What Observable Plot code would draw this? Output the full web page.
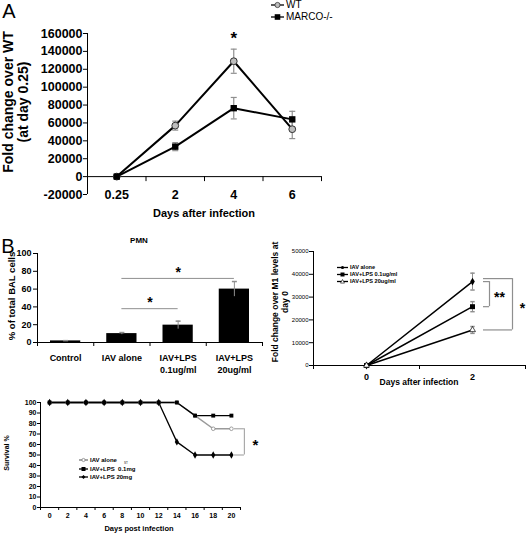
<!DOCTYPE html>
<html><head><meta charset="utf-8">
<script src="https://cdn.jsdelivr.net/npm/d3@7"></script>
<script src="https://cdn.jsdelivr.net/npm/@observablehq/plot@0.6"></script>
<style>
body{margin:0;background:#fff;}
#fig{position:relative;width:526px;height:535px;overflow:hidden;background:#fff;font-family:"Liberation Sans",Arial,sans-serif;color:#000;}
.abs{position:absolute;}
.abs svg{overflow:visible;display:block;}
.lg{position:absolute;display:flex;align-items:center;white-space:pre;}
.lg svg{display:block;margin-right:2px;}
</style></head><body><div id="fig"></div>
<script>
// ---------- DATA ----------
// Panel A
const daysA = ["0.25", "2", "4", "6"];
const wtA = [0, 57000, 129000, 53000];
const wtErrA = [0, 5000, 13500, 10500];
const marcoA = [0, 33500, 76500, 64000];
const marcoErrA = [0, 4500, 12000, 9000];
const yTicksA = [-20000, 0, 20000, 40000, 60000, 80000, 100000, 120000, 140000, 160000];
const sigA = [{day: "4", label: "*"}];

// Panel B (PMN)
const groupsB = ["Control", "IAV alone", "IAV+LPS\n0.1ug/ml", "IAV+LPS\n20ug/ml"];
const pmnB = [1.8, 10, 19.5, 60];
const pmnErrB = [0.3, 1.2, 4.5, 8.5];
const yTicksB = [0, 20, 40, 60, 80, 100];
const sigB = [{from: 1, to: 2, y: 38, label: "*"}, {from: 1, to: 3, y: 72, label: "*"}];

// Panel C (M1 fold change)
const daysC = ["0", "2"];
const seriesC = ["IAV alone", "IAV+LPS 0.1ug/ml", "IAV+LPS 20ug/ml"];
const aloneC = [0, 36800];
const aloneErrC = [0, 3700];
const lps01C = [0, 25800];
const lps01ErrC = [0, 2200];
const lps20C = [0, 15600];
const lps20ErrC = [0, 1500];
const yTicksC = [0, 10000, 20000, 30000, 40000, 50000];

// Panel D (survival)
const daysD = [0, 2, 4, 6, 8, 10, 12, 14, 16, 18, 20];
const seriesD = ["IAV alone", "IAV+LPS  0.1mg", "IAV+LPS 20mg"];
const aloneD = [100, 100, 100, 100, 100, 100, 100, 100, 87.5, 75, 75];
const lps01D = [100, 100, 100, 100, 100, 100, 100, 100, 87.5, 87.5, 87.5];
const lps20D = [100, 100, 100, 100, 100, 100, 100, 62.5, 50, 50, 50];
const yTicksD = [0, 10, 20, 30, 40, 50, 60, 70, 80, 90, 100];

// ---------- HELPERS ----------
const fig = document.getElementById("fig");
const FONT = "'Liberation Sans', Arial, sans-serif";
const GRAY = "#8f8f8f";
const cap = (w) => ({draw(ctx) { ctx.moveTo(-w, 0); ctx.lineTo(w, 0); }});
function place(el, x, y) {
  const d = document.createElement("div");
  d.className = "abs"; d.style.left = x + "px"; d.style.top = y + "px";
  d.appendChild(el); fig.appendChild(d);
}
function txt(s, x, y, o = {}) {
  const {size = 10, weight = "bold", rotate = 0, lh = 1.15, color = "#000"} = o;
  const d = document.createElement("div");
  d.className = "abs";
  Object.assign(d.style, {left: x + "px", top: y + "px", fontSize: size + "px", fontWeight: weight,
    lineHeight: lh, whiteSpace: "pre", textAlign: "center", color,
    transform: `translate(-50%,-50%) rotate(${rotate}deg)`});
  d.textContent = s; fig.appendChild(d);
}
function glyph(kind, w, h, lineColor) {
  const cx = w / 2, cy = h / 2;
  let m = "";
  if (kind === "circleGray") m = `<circle cx="${cx}" cy="${cy}" r="2.6" fill="#bdbdbd" stroke="#333" stroke-width="0.8"/>`;
  if (kind === "square") m = `<rect x="${cx - 2.8}" y="${cy - 2.8}" width="5.6" height="5.6" fill="#000"/>`;
  if (kind === "squareSm") m = `<rect x="${cx - 2}" y="${cy - 2}" width="4" height="4" fill="#000"/>`;
  if (kind === "dot") m = `<circle cx="${cx}" cy="${cy}" r="1.6" fill="#000"/>`;
  if (kind === "diamond") m = `<path d="M${cx},${cy - 2}L${cx + 2},${cy}L${cx},${cy + 2}L${cx - 2},${cy}Z" fill="#000"/>`;
  if (kind === "triOpen") m = `<path d="M${cx},${cy - 2}L${cx + 2},${cy + 1.6}L${cx - 2},${cy + 1.6}Z" fill="#fff" stroke="#000" stroke-width="0.6"/>`;
  if (kind === "circleOpen") m = `<circle cx="${cx}" cy="${cy}" r="1.6" fill="#fff" stroke="#777" stroke-width="0.7"/>`;
  return `<svg width="${w}" height="${h}"><line x1="0" x2="${w}" y1="${cy}" y2="${cy}" stroke="${lineColor}" stroke-width="1.3"/>${m}</svg>`;
}
function legend(x, y, kind, label, o) {
  const d = document.createElement("div");
  d.className = "lg";
  Object.assign(d.style, {left: x + "px", top: (y - o.h / 2) + "px", height: o.h + "px",
    fontSize: o.size + "px", fontWeight: o.weight, lineHeight: o.h + "px"});
  d.innerHTML = glyph(kind, o.w, o.h, o.line || "#000") + `<span>${label}</span>`;
  fig.appendChild(d);
}
const base = {fontFamily: FONT, fontWeight: "bold", overflow: "visible", background: "none", color: "#000"};

// ---------- PANEL A ----------
const rowsA = daysA.flatMap((d, i) => [
  {i, s: "WT", v: wtA[i], e: wtErrA[i]},
  {i, s: "MARCO-/-", v: marcoA[i], e: marcoErrA[i]}
]);
const wtRows = rowsA.filter(r => r.s === "WT");
const maRows = rowsA.filter(r => r.s !== "WT");
const errA = rowsA.filter(r => r.e > 0);
const xDomA = [-0.5, daysA.length - 0.5];
const boundsA = d3.range(xDomA[0], xDomA[1] + 0.01, 1);
const plotA = Plot.plot({
  width: 340, height: 230, marginLeft: 87, marginRight: 19, marginTop: 33, marginBottom: 36,
  style: {...base, fontSize: "12.5px"},
  x: {domain: xDomA, axis: null},
  y: {domain: [yTicksA[0], yTicksA[yTicksA.length - 1]]},
  marks: [
    Plot.axisY({ticks: yTicksA, tickSize: 4, tickPadding: 1, tickFormat: d => String(d), label: null, fontSize: 12.5, fontWeight: "bold"}),
    Plot.ruleX([xDomA[0]], {stroke: "#000"}),
    Plot.ruleY([0], {stroke: "#000"}),
    Plot.ruleX(boundsA, {y1: 0, y2: 0, insetBottom: -5, stroke: "#000"}),
    Plot.text(daysA, {x: (d, i) => i, y: yTicksA[0], text: d => d, fontSize: 12.5, fontWeight: "bold"}),
    Plot.ruleX(errA, {x: "i", y1: d => d.v - d.e, y2: d => d.v + d.e, stroke: GRAY, strokeWidth: 1.2}),
    Plot.dot(errA, {x: "i", y: d => d.v + d.e, symbol: cap(3), stroke: GRAY, fill: "none", strokeWidth: 1.2}),
    Plot.dot(errA, {x: "i", y: d => d.v - d.e, symbol: cap(3), stroke: GRAY, fill: "none", strokeWidth: 1.2}),
    Plot.line(wtRows, {x: "i", y: "v", stroke: "#000", strokeWidth: 2}),
    Plot.line(maRows, {x: "i", y: "v", stroke: "#000", strokeWidth: 2}),
    Plot.dot(wtRows, {x: "i", y: "v", r: 3.4, fill: "#bdbdbd", stroke: "#333", strokeWidth: 1}),
    Plot.dot(maRows, {x: "i", y: "v", symbol: "square", r: 3.6, fill: "#000"}),
    Plot.text(sigA, {x: d => daysA.indexOf(d.day), y: d => wtA[daysA.indexOf(d.day)] + wtErrA[daysA.indexOf(d.day)],
      text: "label", dy: -11, fontSize: 17, fontWeight: "bold"})
  ]
});
place(plotA, 0, 0);
txt("A", 9, 11, {size: 20, weight: "normal", lh: 1});
txt("Days after infection", 204, 213, {size: 11});
txt("Fold change over WT\n(at day 0.25)", 16, 102, {size: 14, rotate: -90, lh: 1.1});
legend(271, 5, "circleGray", "WT", {w: 13, h: 10, size: 10, weight: "normal"});
legend(271, 17, "square", "MARCO-/-", {w: 13, h: 10, size: 10, weight: "normal"});

// ---------- PANEL B ----------
const xDomB = [-0.5, groupsB.length - 0.5];
const boundsB = d3.range(xDomB[0], xDomB[1] + 0.01, 1);
const rowsB = groupsB.map((g, i) => ({i, g, v: pmnB[i], e: pmnErrB[i]}));
const plotB = Plot.plot({
  width: 270, height: 135, marginLeft: 37, marginRight: 8, marginTop: 23, marginBottom: 23,
  style: {...base, fontSize: "9px"},
  x: {domain: xDomB, axis: null},
  y: {domain: [0, 100]},
  marks: [
    Plot.axisY({ticks: yTicksB, tickSize: 4, tickPadding: 2, label: null, fontSize: 9, fontWeight: "bold"}),
    Plot.rect(rowsB, {x1: d => d.i - 0.5, x2: d => d.i + 0.5, y1: 0, y2: "v", insetLeft: 13, insetRight: 13, fill: "#000"}),
    Plot.ruleX([xDomB[0]], {stroke: "#000"}),
    Plot.ruleY([0], {stroke: "#000"}),
    Plot.ruleX(boundsB, {y1: 0, y2: 0, insetBottom: -4, stroke: "#000"}),
    Plot.ruleX(rowsB, {x: "i", y1: d => d.v - d.e, y2: d => d.v + d.e, stroke: GRAY}),
    Plot.dot(rowsB, {x: "i", y: d => d.v + d.e, symbol: cap(2.5), stroke: GRAY, fill: "none"}),
    Plot.text(rowsB, {x: "i", y: 0, text: "g", lineAnchor: "top", dy: 10, fontSize: 9, fontWeight: "bold", lineHeight: 1.3}),
    Plot.ruleY(sigB, {x1: "from", x2: "to", y: "y", stroke: GRAY}),
    Plot.text(sigB, {x: d => (d.from + d.to) / 2, y: "y", text: "label", dy: -6, fontSize: 14, fontWeight: "bold"})
  ]
});
place(plotB, 0, 230);
txt("B", 8, 246, {size: 20, weight: "normal", lh: 1});
txt("PMN", 139, 241, {size: 8});
txt("% of total BAL cells", 12, 296, {size: 9.5, rotate: -90});

// ---------- PANEL C ----------
const xDomC = [-0.5, daysC.length - 0.5];
const boundsC = d3.range(xDomC[0], xDomC[1] + 0.01, 1);
const mkC = (vals, errs, s) => daysC.map((d, i) => ({i, s, v: vals[i], e: errs[i]}));
const cA = mkC(aloneC, aloneErrC, seriesC[0]);
const cB = mkC(lps01C, lps01ErrC, seriesC[1]);
const cC = mkC(lps20C, lps20ErrC, seriesC[2]);
const errC = [...cA, ...cB, ...cC].filter(r => r.e > 0);
const last = daysC.length - 1;
const plotC = Plot.plot({
  width: 256, height: 180, marginLeft: 43, marginRight: 1, marginTop: 21, marginBottom: 45,
  style: {...base, fontWeight: "normal", fontSize: "6px"},
  x: {domain: xDomC, axis: null},
  y: {domain: [0, 50000]},
  marks: [
    Plot.axisY({ticks: yTicksC, tickSize: 4, tickPadding: 1, tickFormat: d => String(d), label: null, fontSize: 6, fontWeight: "normal"}),
    Plot.ruleX([xDomC[0]], {stroke: "#000"}),
    Plot.ruleY([0], {stroke: "#000"}),
    Plot.ruleX(boundsC, {y1: 0, y2: 0, insetBottom: -4, stroke: "#000"}),
    Plot.text(daysC, {x: (d, i) => i, y: 0, text: d => d, dy: 12, fontSize: 9, fontWeight: "bold"}),
    Plot.ruleX(errC, {x: "i", y1: d => d.v - d.e, y2: d => d.v + d.e, stroke: GRAY}),
    Plot.dot(errC, {x: "i", y: d => d.v + d.e, symbol: cap(2.2), stroke: GRAY, fill: "none"}),
    Plot.dot(errC, {x: "i", y: d => d.v - d.e, symbol: cap(2.2), stroke: GRAY, fill: "none"}),
    Plot.line(cA, {x: "i", y: "v", stroke: "#000", strokeWidth: 1.5}),
    Plot.line(cB, {x: "i", y: "v", stroke: "#000", strokeWidth: 1.5}),
    Plot.line(cC, {x: "i", y: "v", stroke: "#000", strokeWidth: 1.5}),
    Plot.dot(cA, {x: "i", y: "v", symbol: "diamond", r: 2.4, fill: "#000"}),
    Plot.dot(cB, {x: "i", y: "v", symbol: "square", r: 2.8, fill: "#000"}),
    Plot.dot(cC, {x: "i", y: "v", symbol: "triangle", r: 2.2, fill: "#fff", stroke: "#000", strokeWidth: 0.7}),
    // significance brackets
    Plot.ruleY([aloneC[last], lps01C[last]], {x1: last, x2: last, insetLeft: 11, insetRight: -17, stroke: GRAY, strokeWidth: 1.2}),
    Plot.ruleX([last], {y1: aloneC[last], y2: lps01C[last], dx: 17, stroke: GRAY, strokeWidth: 1.2}),
    Plot.ruleY([aloneC[last]], {x1: last, x2: last, insetLeft: 11, insetRight: -40, dy: -3, stroke: GRAY, strokeWidth: 1.2}),
    Plot.ruleY([lps20C[last]], {x1: last, x2: last, insetLeft: 11, insetRight: -40, stroke: GRAY, strokeWidth: 1.2}),
    Plot.ruleX([last], {y1: aloneC[last], y2: lps20C[last], dx: 40, insetTop: -3, stroke: GRAY, strokeWidth: 1.2}),
    Plot.text(["**"], {x: last, y: (aloneC[last] + lps01C[last]) / 2, dx: 27, dy: 3, fontSize: 14, fontWeight: "bold"}),
    Plot.text(["*"], {x: last, y: (aloneC[last] + lps20C[last]) / 2, dx: 50, dy: 3, fontSize: 14, fontWeight: "bold"})
  ]
});
place(plotC, 270, 230);
txt("Days after infection", 419, 383, {size: 8.5});
txt("Fold change over M1 levels at\nday 0", 280, 302, {size: 8.5, rotate: -90, lh: 1.2});
legend(337, 267, "dot", seriesC[0], {w: 11, h: 7, size: 5.6, weight: "bold"});
legend(337, 274, "squareSm", seriesC[1], {w: 11, h: 7, size: 5.6, weight: "bold"});
legend(337, 281, "triOpen", seriesC[2], {w: 11, h: 7, size: 5.6, weight: "bold"});

// ---------- PANEL D ----------
const xDomD = [daysD[0] - 1, daysD[daysD.length - 1] + 1];
const boundsD = d3.range(xDomD[0], xDomD[1] + 0.01, 2);
const mkD = (vals, s) => daysD.map((d, i) => ({d, s, v: vals[i]}));
const dA = mkD(aloneD, seriesD[0]), dB = mkD(lps01D, seriesD[1]), dC = mkD(lps20D, seriesD[2]);
const lastD = daysD[daysD.length - 1], li = daysD.length - 1;
const plotD = Plot.plot({
  width: 280, height: 155, marginLeft: 40, marginRight: 40, marginTop: 22, marginBottom: 28,
  style: {...base, fontSize: "7px"},
  x: {domain: xDomD, axis: null},
  y: {domain: [0, 100]},
  marks: [
    Plot.axisY({ticks: yTicksD, tickSize: 3, tickPadding: 1, label: null, fontSize: 7, fontWeight: "bold"}),
    Plot.ruleX([xDomD[0]], {stroke: "#000"}),
    Plot.ruleY([0], {stroke: "#000"}),
    Plot.ruleX(boundsD, {y1: 0, y2: 0, insetBottom: -3, stroke: "#000"}),
    Plot.text(daysD, {x: d => d, y: 0, text: d => String(d), dy: 8, fontSize: 7, fontWeight: "bold"}),
    Plot.line(dA, {x: "d", y: "v", stroke: "#9a9a9a", strokeWidth: 1.5}),
    Plot.line(dC, {x: "d", y: "v", stroke: "#000", strokeWidth: 1.3}),
    Plot.line(dB, {x: "d", y: "v", stroke: "#000", strokeWidth: 1.3}),
    Plot.dot(dA, {x: "d", y: "v", r: 1.8, fill: "#fff", stroke: "#8a8a8a", strokeWidth: 0.8}),
    Plot.dot(dC, {x: "d", y: "v", symbol: "diamond", r: 2.2, fill: "#000"}),
    Plot.dot(dB, {x: "d", y: "v", symbol: "square", r: 2.2, fill: "#000"}),
    Plot.ruleY([aloneD[li], lps20D[li]], {x1: lastD, x2: lastD, insetLeft: 3, insetRight: -13, stroke: "#aaa", strokeWidth: 1.2}),
    Plot.ruleX([lastD], {y1: aloneD[li], y2: lps20D[li], dx: 13, stroke: "#aaa", strokeWidth: 1.2}),
    Plot.text(["*"], {x: lastD, y: (aloneD[li] + lps20D[li]) / 2, dx: 24, dy: 3, fontSize: 15, fontWeight: "bold"})
  ]
});
place(plotD, 0, 380);
txt("Days post infection", 139, 529, {size: 7.5});
txt("Survival %", 7, 453, {size: 7, rotate: -90});
legend(79, 460, "circleOpen", seriesD[0], {w: 9, h: 8, size: 6, weight: "bold", line: "#777"});
legend(79, 469, "squareSm", seriesD[1], {w: 9, h: 8, size: 6, weight: "bold"});
legend(79, 477, "diamond", seriesD[2], {w: 9, h: 8, size: 6, weight: "bold"});
txt("ST", 126, 464, {size: 3, weight: "normal"});
</script></body></html>
